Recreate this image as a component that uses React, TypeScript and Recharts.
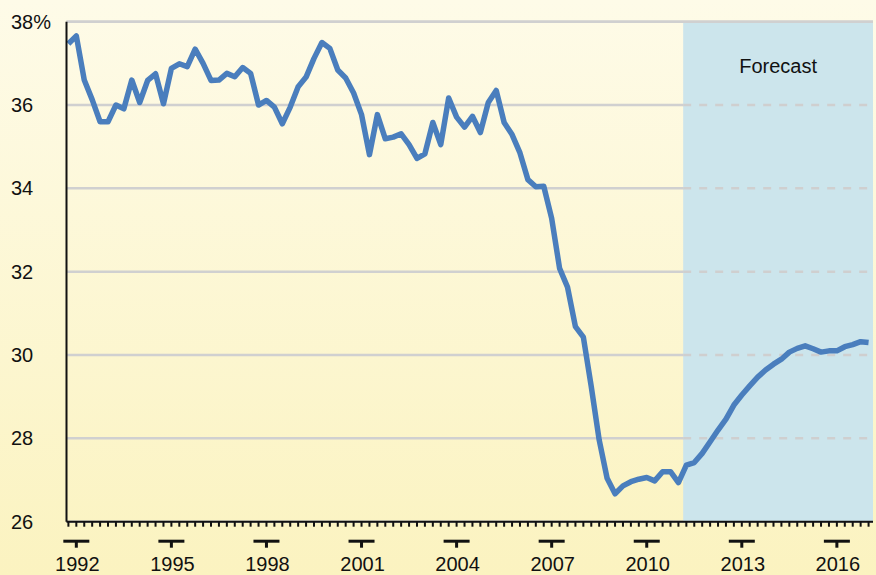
import { LineChart, Line, XAxis, YAxis, CartesianGrid, ReferenceArea, ReferenceLine } from 'recharts';

// quarterly series, first quarter is 1991 Q4
const firstQuarter = 1991.75;
const history = [
  37.47, 37.66, 36.6, 36.13, 35.6, 35.6, 36.0, 35.91, 36.6, 36.06,
  36.59, 36.75, 36.03, 36.88, 36.99, 36.92, 37.34, 37.0, 36.59, 36.6,
  36.76, 36.68, 36.9, 36.76, 36.0, 36.11, 35.95, 35.55, 35.95, 36.44,
  36.67, 37.12, 37.5, 37.36, 36.84, 36.65, 36.29, 35.77, 34.81, 35.77,
  35.19, 35.23, 35.31, 35.05, 34.72, 34.83, 35.58, 35.05, 36.17, 35.71,
  35.47, 35.73, 35.34, 36.06, 36.35, 35.58, 35.29, 34.85, 34.21, 34.04,
  34.05, 33.28, 32.08, 31.63, 30.68, 30.43, 29.24, 27.96, 27.04, 26.67,
  26.86, 26.96, 27.02, 27.06, 26.98, 27.2, 27.2, 26.94,
];
const forecast = [
  27.36, 27.42, 27.64, 27.92, 28.2, 28.46, 28.8, 29.04, 29.26, 29.47,
  29.64, 29.78, 29.9, 30.07, 30.16, 30.22, 30.15, 30.07, 30.1, 30.1,
  30.2, 30.25, 30.32, 30.3,
];
const yearLabels = [1992, 1995, 1998, 2001, 2004, 2007, 2010, 2013, 2016];
const yTicks = [26, 28, 30, 32, 34, 36, 38];
const forecastStart = 2011.15;
const domainStart = 1991.69;
const domainEnd = 2017.14;

const values = [...history, ...forecast];
const data = values.map((v, i) => ({ t: firstQuarter + i * 0.25, v }));
const quarterTicks = data.map((d) => d.t);

const FONT = '"Liberation Sans", Arial, sans-serif';

function XTick(props: any) {
  const { x, y, payload } = props;
  const v = payload.value;
  const isYear = yearLabels.includes(v);
  return (
    <g>
      <rect x={x - 1} y={y} width={2} height={5} fill="#111" />
      {isYear && (
        <g>
          <rect x={x - 13} y={y + 18} width={26} height={3} fill="#111" />
          <rect x={x - 1.5} y={y + 20} width={3} height={6} fill="#111" />
          <text x={x + 1} y={y + 49} textAnchor="middle" fontSize={20} fill="#111" fontFamily={FONT}>
            {v}
          </text>
        </g>
      )}
    </g>
  );
}

function YTick(props: any) {
  const { y, payload } = props;
  const label = payload.value === 38 ? '38%' : String(payload.value);
  return (
    <text x={11} y={y + 7} textAnchor="start" fontSize={20} fill="#111" fontFamily={FONT}>
      {label}
    </text>
  );
}

export default function App() {
  return (
    <div
      style={{
        position: 'absolute',
        left: 0,
        top: 0,
        width: 876,
        height: 575,
        background: 'linear-gradient(to bottom, #fefbe8 0%, #fbf3c0 100%)',
      }}
    >
      <LineChart width={876} height={575} data={data} margin={{ top: 21.7, right: 3, left: 0, bottom: 0 }}>
        <CartesianGrid horizontal vertical={false} stroke="#d0d0d0" strokeWidth={2.5} />
        <ReferenceArea
          x1={forecastStart}
          x2={domainEnd}
          y1={26}
          y2={38}
          fill="#cce5ec"
          fillOpacity={1}
          stroke="none"
          label={{ value: 'Forecast', position: 'insideTop', offset: 37, fontSize: 20, fill: '#111', fontFamily: FONT }}
        />
        <ReferenceLine y={38} stroke="#d0d0d0" strokeWidth={2.5} />
        {[28, 30, 32, 34, 36].map((g) => (
          <ReferenceLine
            key={g}
            segment={[
              { x: forecastStart, y: g },
              { x: domainEnd, y: g },
            ]}
            stroke="#cfcfcf"
            strokeWidth={2.5}
            strokeDasharray="8 8"
          />
        ))}
        <XAxis
          dataKey="t"
          type="number"
          domain={[domainStart, domainEnd]}
          ticks={quarterTicks}
          interval={0}
          height={53.3}
          axisLine={{ stroke: '#111', strokeWidth: 2 }}
          tickLine={false}
          tickSize={0}
          tickMargin={0}
          tick={(p: any) => <XTick {...p} />}
          allowDataOverflow
        />
        <YAxis
          type="number"
          domain={[26, 38]}
          ticks={yTicks}
          interval={0}
          width={66.5}
          axisLine={{ stroke: '#111', strokeWidth: 2 }}
          tickLine={false}
          tick={(p: any) => <YTick {...p} />}
        />
        <Line
          type="linear"
          dataKey="v"
          stroke="#4a7ebd"
          strokeWidth={5.5}
          strokeLinejoin="round"
          dot={false}
          isAnimationActive={false}
        />
      </LineChart>
    </div>
  );
}
